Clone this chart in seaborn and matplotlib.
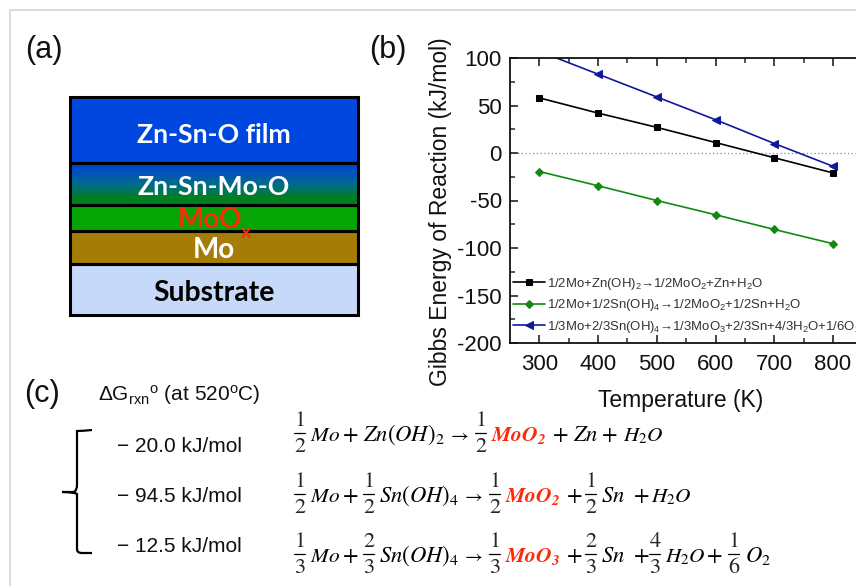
import numpy as np
import pandas as pd
import matplotlib
matplotlib.use('Agg')
import matplotlib.pyplot as plt
import seaborn as sns
from matplotlib.patches import Rectangle, PathPatch
from matplotlib.path import Path

# Values
temperature = [300, 400, 500, 600, 700, 800]
dg_zn = [58, 42, 27, 11, -5, -21]
dg_sn_moo2 = [-19.5, -34.5, -50, -65, -80.5, -95.5]
dg_sn_moo3 = [107, 83, 59, 35, 10, -14]

label_zn = '1/2Mo+Zn(OH)$\\mathregular{_2}$→1/2MoO$\\mathregular{_2}$+Zn+H$\\mathregular{_2}$O'
label_sn2 = '1/2Mo+1/2Sn(OH)$\\mathregular{_4}$→1/2MoO$\\mathregular{_2}$+1/2Sn+H$\\mathregular{_2}$O'
label_sn3 = '1/3Mo+2/3Sn(OH)$\\mathregular{_4}$→1/3MoO$\\mathregular{_3}$+2/3Sn+4/3H$\\mathregular{_2}$O+1/6O$\\mathregular{_2}$'

# Panel (a) stack
layer_names = ['Zn-Sn-O film', 'Zn-Sn-Mo-O', '', 'Mo', 'Substrate']
layer_tops = [97, 163, 205, 231, 264]
layer_bottoms = [163, 205, 231, 264, 315]
layer_colors = ['#0047e0', None, '#06a506', '#a57c08', '#c6d9f8']
layer_text_colors = ['white', 'white', 'white', 'white', 'black']
layer_text_y = [135, 187, 220, 250, 293]
layer_text_size = [19.3, 19.2, 17, 20, 20.4]

# Panel (c)
dg_text = ['− 20.0 kJ/mol', '− 94.5 kJ/mol', '− 12.5 kJ/mol']
dg_text_y = [447, 497, 546]
eq_y = [433, 494, 554]

sns.set_style('ticks')
plt.rcParams['font.family'] = ['Liberation Sans', 'DejaVu Sans']
plt.rcParams['mathtext.fontset'] = 'stix'
plt.rcParams['axes.unicode_minus'] = False

W, H = 856, 586
fig = plt.figure(figsize=(W / 100, H / 100), dpi=100, facecolor='white')

# overlay in pixel coords for the schematic and the equations
bg = fig.add_axes([0, 0, 1, 1], zorder=0)
bg.set_xlim(0, W)
bg.set_ylim(H, 0)
bg.axis('off')
bg.plot([10, 10, W], [H, 10, 10], color='#d4d4d4', lw=1.2)

for txt, x, y in [('(a)', 25, 50), ('(b)', 369, 50), ('(c)', 24, 394)]:
    bg.text(x, y, txt, fontsize=22, va='center', color='#111111')

# layers
for i in range(5):
    top, bot = layer_tops[i], layer_bottoms[i]
    if layer_colors[i] is None:
        grad = np.array([[[0.0, 0.30, 0.78]], [[0.0, 0.42, 0.55]], [[0.0, 0.50, 0.13]]])
        bg.imshow(grad, extent=[70.5, 358, bot, top], aspect='auto', interpolation='bilinear', zorder=1)
    else:
        bg.add_patch(Rectangle((70.5, top), 287.5, bot - top, facecolor=layer_colors[i], edgecolor='none', zorder=1))
    bg.add_patch(Rectangle((70.5, top), 287.5, bot - top, facecolor='none', edgecolor='black', lw=2.2, zorder=2))
    if layer_names[i]:
        bg.text(214, layer_text_y[i], layer_names[i], color=layer_text_colors[i], fontsize=layer_text_size[i],
                family='Lato', weight='bold', ha='center', va='center', zorder=3)
bg.set_xlim(0, W)
bg.set_ylim(H, 0)
bg.text(178, 220, 'MoO', color='#ff2a0a', fontsize=20, family='Lato', weight='bold', va='center', zorder=3)
bg.text(241, 232, 'x', color='#ff2a0a', fontsize=14, family='Lato', weight='bold', va='center', zorder=3)

# panel (c) left column
bg.text(98, 395, 'ΔG$\\mathregular{_{rxn}}$$\\mathregular{^{o}}$ (at 520$\\mathregular{^{o}}$C)', fontsize=15, va='center', color='#111111')
for txt, y in zip(dg_text, dg_text_y):
    bg.text(117, y, txt, fontsize=15, va='center', color='#111111')

verts = [(92, 430), (82, 431), (77, 431), (77, 440), (77, 470), (77, 485), (77, 490), (74, 492), (62, 492),
         (74, 492), (77, 494), (77, 500), (77, 520), (77, 540), (77, 549), (77, 553), (82, 553), (92, 553)]
codes = [Path.MOVETO] + [Path.CURVE3] * 2 + [Path.LINETO] + [Path.LINETO] * 2 + [Path.CURVE3] * 2 + [Path.LINETO] + \
        [Path.CURVE3] * 2 + [Path.LINETO] * 3 + [Path.LINETO] + [Path.CURVE3] * 2 + [Path.LINETO]
bg.add_patch(PathPatch(Path(verts, codes), facecolor='none', edgecolor='black', lw=1.6))


def frac(cx, y, num, den):
    bg.plot([cx - 5.5, cx + 5.5], [y, y], color='black', lw=0.9)
    bg.text(cx, y - 12, num, fontsize=16, family='STIXGeneral', ha='center', va='center')
    bg.text(cx, y + 14, den, fontsize=16, family='STIXGeneral', ha='center', va='center')


def term(x, y, txt, color='black', size=16.3):
    bg.text(x, y, txt, fontsize=size, color=color, ha='left', va='baseline')


RED = '#ff2a0a'
SMALL = 15.3
row = eq_y[0]
base = row + 8
frac(300, row, '1', '2')
term(310, base, '$Mo$', size=SMALL)
term(342, base, '$+$')
term(363, base, '$Zn(OH)_2$')
term(448, base, '$\\rightarrow$', size=14)
frac(481, row, '1', '2')
term(491, base, '$\\mathbfit{MoO_2}$', RED, 15.5)
term(552, base, '$+$')
term(573, base, '$Zn$')
term(601, base, '$+$')
term(623, base, '$H_2O$', size=SMALL)

row = eq_y[1]
base = row + 8
frac(300, row, '1', '2')
term(310, base, '$Mo$', size=SMALL)
term(342, base, '$+$')
frac(369, row, '1', '2')
term(379, base, '$Sn(OH)_4$')
term(462, base, '$\\rightarrow$', size=14)
frac(495, row, '1', '2')
term(505, base, '$\\mathbfit{MoO_2}$', RED, 15.5)
term(566, base, '$+$')
frac(591, row, '1', '2')
term(601, base, '$Sn$')
term(633, base, '$+$')
term(651, base, '$H_2O$', size=SMALL)

row = eq_y[2]
base = row + 8
frac(300, row, '1', '3')
term(310, base, '$Mo$', size=SMALL)
term(342, base, '$+$')
frac(369, row, '2', '3')
term(379, base, '$Sn(OH)_4$')
term(462, base, '$\\rightarrow$', size=14)
frac(495, row, '1', '3')
term(505, base, '$\\mathbfit{MoO_3}$', RED, 15.5)
term(566, base, '$+$')
frac(591, row, '2', '3')
term(601, base, '$Sn$')
term(633, base, '$+$')
frac(655, row, '4', '3')
term(665, base, '$H_2O$', size=SMALL)
term(706, base, '$+$')
frac(734, row, '1', '6')
term(745, base, '$O_2$')

# panel (b)
ax = fig.add_axes([510 / W, (H - 343) / H, 352.4 / W, 285 / H], zorder=2)
ax.patch.set_alpha(0)
series = [(dg_zn, label_zn, 'black', 's', 4),
          (dg_sn_moo2, label_sn2, '#118a11', 'D', 4),
          (dg_sn_moo3, label_sn3, '#10189a', '<', 5.5)]
for vals, lab, col, mk, ms in series:
    df = pd.DataFrame({'T': temperature, 'dG': vals})
    sns.lineplot(data=df, x='T', y='dG', ax=ax, color=col, marker=mk, markersize=ms,
                 markeredgecolor=col, lw=1.2, label=lab, errorbar=None)
ax.axhline(0, color='#888888', lw=0.9, ls=(0, (1, 2)), zorder=0)
ax.set_xlim(250, 850)
ax.set_ylim(-200, 100)
ax.set_xticks(temperature)
ax.set_xticks([350, 450, 550, 650, 750, 850], minor=True)
ax.set_yticks([-200, -150, -100, -50, 0, 50, 100])
ax.set_yticks([-175, -125, -75, -25, 25, 75], minor=True)
ax.tick_params(which='major', direction='in', length=6, width=1.1, top=True, labelsize=16, colors='#111111')
ax.tick_params(axis='x', which='major', pad=8)
ax.tick_params(axis='y', which='major', pad=6)
ax.tick_params(which='minor', direction='in', length=3.5, width=1.1, top=True)
for s in ax.spines.values():
    s.set_linewidth(1.3)
    s.set_color('#111111')
ax.set_xlabel('Temperature (K)', fontsize=16.5, color='#111111')
ax.xaxis.set_label_coords(0.484, -0.16)
ax.set_ylabel('Gibbs Energy of Reaction (kJ/mol)', fontsize=16.5, color='#111111')
ax.yaxis.set_label_coords(-0.165, 0.46)
leg = ax.legend(loc='lower left', bbox_to_anchor=(0.005, 0.0235), frameon=False, fontsize=9.45, labelcolor='#333333',
                handlelength=2.4, handletextpad=0.22, labelspacing=0.42, borderaxespad=0, borderpad=0.1)

fig.savefig('out.png', dpi=100)
